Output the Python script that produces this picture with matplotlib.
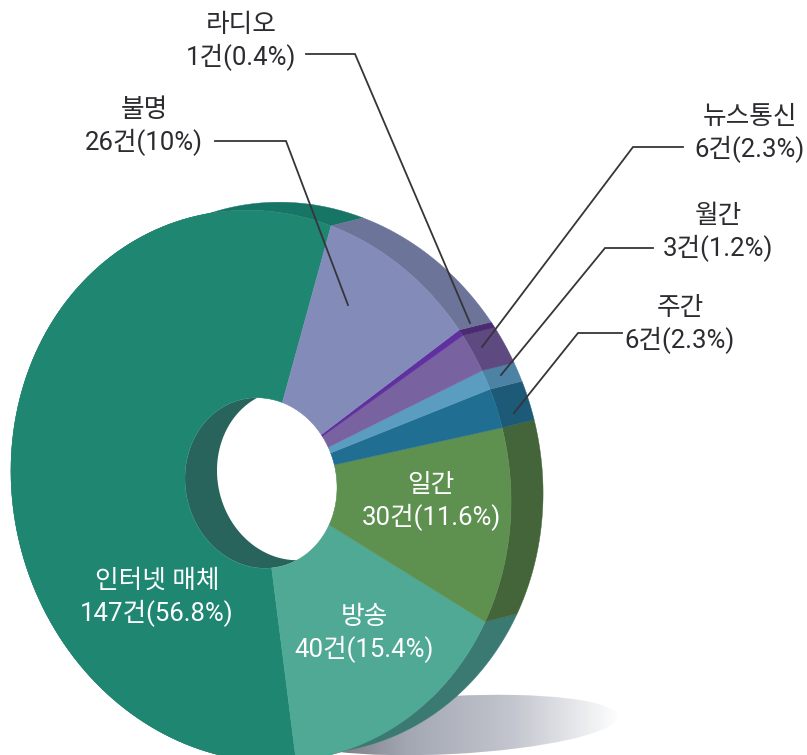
import numpy as np
import matplotlib
matplotlib.use("Agg")
import matplotlib.pyplot as plt
from matplotlib.patches import Polygon
from matplotlib.colors import LinearSegmentedColormap
from matplotlib.patches import Ellipse

plt.rcParams['font.family'] = ['Roboto', 'Noto Sans CJK KR', 'DejaVu Sans']

names = ["인터넷 매체", "방송", "일간", "주간", "월간", "뉴스통신", "라디오", "불명"]
counts = [147, 40, 30, 6, 3, 6, 1, 26]
pcts = ["56.8%", "15.4%", "11.6%", "2.3%", "1.2%", "2.3%", "0.4%", "10%"]

face_colors = ["#1f8672", "#4fa994", "#5e9050", "#206f92", "#5a9dc0", "#78629f", "#6030a0", "#838cb8"]
side_colors = ["#177565", "#3a7a72", "#44653a", "#1d5a78", "#4c83a5", "#5e4a80", "#4a2a70", "#6d7499"]

# front face geometry, in pixels
cx, cy = 261, 486
rx, ry = 250, 275
hole_cy = 483
hx, hy = 76, 85
dx, dy = 32, -8
start = 75
tilt_y = 0.085
tilt_x = 0.02

fig = plt.figure(figsize=(8.07, 7.55), dpi=100)
ax = fig.add_axes([0, 0, 1, 1])
ax.set_xlim(0, 807)
ax.set_ylim(755, 0)
ax.axis("off")

# shadow under the donut
shadow_cmap = LinearSegmentedColormap.from_list("shadow", ["#64666f", "#a3a7b2", "#c3c6ce", "#ffffff"])
img = ax.imshow(np.linspace(0, 1, 256).reshape(1, -1), extent=(300, 620, 760, 690), cmap=shadow_cmap,
                aspect="auto", zorder=1)
shadow = Ellipse((452, 725), 332, 58, angle=-3, fc="none", ec="none")
ax.add_patch(shadow)
img.set_clip_path(shadow)
ax.set_xlim(0, 807)
ax.set_ylim(755, 0)


def arc(a, b, px, py, yc=cy, ox=0, oy=0):
    t = np.radians(np.linspace(a, b, 120))
    x = px * np.cos(t)
    y = -py * np.sin(t)
    return np.column_stack([cx + ox + x - tilt_x * y, yc + oy + y + tilt_y * x])


angles = start + np.concatenate([[0], np.cumsum(counts)]) / sum(counts) * 360

# outer side of the ring
for i in range(len(counts)):
    a, b = angles[i], angles[i + 1]
    pts = np.vstack([arc(a, b, rx, ry), arc(a, b, rx, ry, ox=dx, oy=dy)[::-1]])
    ax.add_patch(Polygon(pts, fc=side_colors[i], ec=side_colors[i], lw=0.3, zorder=2))

# hole wall and the see-through part
front_hole = Polygon(arc(0, 360, hx, hy, hole_cy), fc="#28645c", ec="none", zorder=3)
ax.add_patch(front_hole)
see_through = Polygon(arc(0, 360, hx, hy, hole_cy, dx, dy), fc="white", ec="none", zorder=4)
ax.add_patch(see_through)
see_through.set_clip_path(front_hole)

# front face
for i in range(len(counts)):
    a, b = angles[i], angles[i + 1]
    pts = np.vstack([arc(a, b, rx, ry), arc(a, b, hx, hy, hole_cy)[::-1]])
    ax.add_patch(Polygon(pts, fc=face_colors[i], ec=face_colors[i], lw=0.3, zorder=5))

# leader lines
leaders = [
    ([306, 355, 470], [54, 54, 323]),
    ([215, 286, 348], [141, 141, 305]),
    ([683, 633, 482], [147, 147, 347]),
    ([653, 605, 501], [248, 248, 375]),
    ([622, 578, 514], [333, 333, 413]),
]
for xs, ys in leaders:
    ax.plot(xs, ys, color="#35353a", lw=1.3, zorder=6, solid_joinstyle="miter")

# labels, same order as names
label_xy = [(157, 597), (364, 633), (431, 501), (680, 324), (718, 232), (750, 133), (241, 41), (144, 126)]
label_colors = ["white", "white", "white", "#2b2b30", "#2b2b30", "#2b2b30", "#2b2b30", "#2b2b30"]
for i in range(len(names)):
    x, y = label_xy[i]
    ax.text(x, y - 16, names[i], ha="center", va="center", fontsize=18.5, color=label_colors[i], zorder=7)
    ax.text(x, y + 16, f"{counts[i]}건({pcts[i]})", ha="center", va="center", fontsize=18.5,
            color=label_colors[i], zorder=7)

fig.savefig("out.png", dpi=100, facecolor="white")
